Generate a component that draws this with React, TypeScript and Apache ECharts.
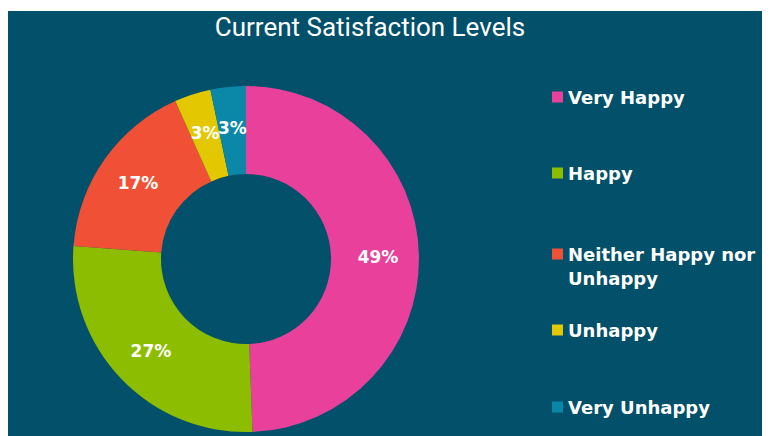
import React, { useEffect, useRef } from "react";
import * as echarts from "echarts";

const categories = ["Very Happy", "Happy", "Neither Happy nor Unhappy", "Unhappy", "Very Unhappy"];
const shares = [49.4, 26.8, 17.1, 3.4, 3.3];
const colors = ["#e8409b", "#8cbd00", "#f05136", "#e3c700", "#0b87a8"];
const legendTops = [85, 161, 218, 318, 395];

const BG = "#02506a";

export default function App() {
  const ref = useRef<HTMLDivElement>(null);
  useEffect(() => {
    if (!ref.current) return;
    const chart = echarts.init(ref.current, undefined, { renderer: "svg" });
    const legends = categories.map((name, i) => ({
      data: [name],
      orient: "vertical",
      left: 552,
      top: legendTops[i],
      padding: 0,
      icon: "rect",
      itemWidth: 11,
      itemHeight: 11,
      selectedMode: false,
      formatter: (n: string) => (n === "Neither Happy nor Unhappy" ? " \nNeither Happy nor\nUnhappy" : n),
      textStyle: {
        color: "#ffffff",
        fontFamily: "DejaVu Sans",
        fontWeight: "bold",
        fontSize: 18,
        lineHeight: 24,
      },
    }));
    chart.setOption({
      animation: false,
      backgroundColor: "#ffffff",
      graphic: [
        {
          type: "rect",
          z: -10,
          silent: true,
          shape: { x: 8, y: 11, width: 754, height: 425 },
          style: { fill: BG },
        },
      ],
      title: {
        text: "Current Satisfaction Levels",
        left: 365,
        textAlign: "center",
        top: 9,
        textStyle: {
          color: "#ffffff",
          fontFamily: "Roboto",
          fontWeight: "normal",
          fontSize: 26,
        },
      },
      legend: legends,
      series: [
        {
          type: "pie",
          center: [246, 259],
          radius: [85, 173],
          startAngle: 90,
          clockwise: true,
          avoidLabelOverlap: false,
          minShowLabelAngle: 0,
          labelLayout: { hideOverlap: false },
          itemStyle: { borderWidth: 0 },
          emphasis: { disabled: true },
          label: {
            show: true,
            position: "inside",
            color: "#ffffff",
            fontFamily: "DejaVu Sans",
            fontWeight: "bold",
            fontSize: 17,
            formatter: (p: any) => Math.round(p.value) + "%",
          },
          labelLine: { show: false },
          data: categories.map((name, i) => ({
            name,
            value: shares[i],
            itemStyle: { color: colors[i] },
          })),
        },
      ],
    });
    return () => chart.dispose();
  }, []);
  return (
    <div
      ref={ref}
      style={{ position: "fixed", left: 0, top: 0, width: 771, height: 436 }}
    />
  );
}
